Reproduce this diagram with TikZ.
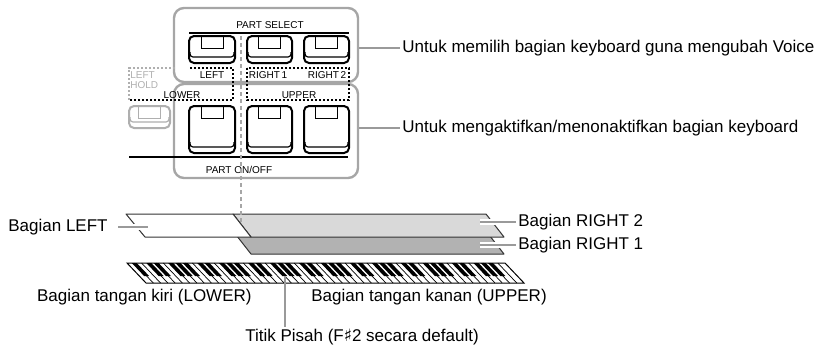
\documentclass[tikz,border=0pt]{standalone}
\usepackage{fontspec}
\setmainfont{Liberation Sans}
\newfontfamily\sharpfont{DejaVu Sans}
\usetikzlibrary{fit, positioning}
\definecolor{pGray}{HTML}{A6A6A6}
\definecolor{pLine}{HTML}{9A9A9A}
\definecolor{sLight}{HTML}{D9D9D9}
\definecolor{sDark}{HTML}{B2B2B2}
\definecolor{hGray}{HTML}{AFAFAF}
\tikzset{
  panel/.style={draw=pGray, line width=1.2pt, rounded corners=5pt, inner sep=0pt},
  btn/.style={line width=1pt, rounded corners=2.5pt},
  btnlip/.style={line width=0.6pt, rounded corners=1.5pt},
  btnnotch/.style={line width=0.5pt},
  tag/.style={font=\fontsize{5}{5.2}\selectfont, inner sep=0pt},
  note/.style={font=\fontsize{8.5}{10}\selectfont, inner sep=1pt},
  callout/.style={draw=pLine, line width=1pt},
  pin/.style={draw=pLine, line width=1pt, preaction={draw=white, line width=2.6pt}},
  sheet/.style={draw=black!80, line width=0.5pt, line join=round},
  zone/.style={line width=0.6pt, dash pattern=on 1.2pt off 0.8pt},
  splitline/.style={draw=pGray, line width=1pt, dash pattern=on 2pt off 1.5pt},
  keyline/.style={line width=0.35pt},
}

% one panel button: x0, y0, x1, y1, colour
\newcommand{\panelbutton}[5]{%
  \draw[btn, draw=#5, fill=white] (#1,#2) rectangle (#3,#4);
  \draw[btnlip, draw=#5] ({#1+1},{#4-11}) |- ({(#1+#3)/2},{#4-6}) -| ({#3-1},{#4-11});
  \draw[btnnotch, draw=#5] ({(#1+#3)/2-11},#2) rectangle ({(#1+#3)/2+11},{#2+12});
}

\begin{document}
\begin{tikzpicture}[x=0.5pt, y=-0.5pt]
  \useasboundingbox (0,0) rectangle (825,345);

  % panel frames
  \node[panel, fit={(174,8) (358,82)}] (selpanel) {};
  \node[panel, fit={(174,84) (358,178)}] (onpanel) {};

  % PART SELECT row
  \node[tag] (selhead) at (270,25) {PART~SELECT};
  \draw[line width=0.9pt] (189,33) -- (349,33);
  \panelbutton{189}{36}{235}{63}{black}
  \panelbutton{247}{36}{292}{63}{black}
  \panelbutton{304}{36}{349}{63}{black}
  \node[tag] (leftsel) at (212,75) {LEFT};
  \node[tag] (r1sel) at (268,75) {RIGHT\,1};
  \node[tag] (r2sel) at (327,75) {RIGHT\,2};

  % LOWER / UPPER zones
  \draw[zone, draw=hGray] (175,68) -- (129,68) -- (129,100);
  \draw[zone] (190,68) -- (233,68) -- (233,100) -- (129,100);
  \draw[zone] (247,68) rectangle (349,100);
  \node[tag, text=hGray, align=left, anchor=north west] (holdtag) at (130,71) {LEFT\\HOLD};
  \node[tag] (lowertag) at (182,95) {LOWER};
  \node[tag] (uppertag) at (299,95) {UPPER};

  % PART ON/OFF row
  \panelbutton{129}{106}{170}{128}{hGray}
  \panelbutton{189}{106}{235}{153}{black}
  \panelbutton{247}{106}{292}{153}{black}
  \panelbutton{304}{106}{349}{153}{black}
  \draw[line width=0.9pt] (129,157) -- (348,157);
  \node[tag] (onofftag) at (239,170) {PART ON/OFF};

  \node[note, anchor=west] (selnote) at (400,48) {Untuk memilih bagian keyboard guna mengubah Voice};
  \node[note, anchor=west] (onnote) at (400,128) {Untuk mengaktifkan/menonaktifkan bagian keyboard};
  \draw[callout] (selnote.west -| selpanel.east) -- (selnote.west);
  \draw[callout] (onnote.west -| onpanel.east) -- (onnote.west);

  % voice layers
  \draw[sheet, fill=sDark] (233,231) -- (486,231) -- (504,254) -- (251,254) -- cycle;
  \draw[sheet, fill=sLight] (233,214) -- (486,214) -- (504,237) -- (251,237) -- cycle;
  \draw[sheet, fill=white] (126,214) -- (233,214) -- (251,237) -- (145,237) -- cycle;
  \draw[splitline] (241,36) -- (241,223);

  % 88 keys, slanted
  \begin{scope}[shift={(127,263)}, xslant=-0.95]
    \fill[white] (0,0) rectangle (378,20);
    \foreach \k in {1,...,51}
      \draw[keyline] (\k*7.27,0) -- (\k*7.27,20);
    \foreach \o in {0,7,...,42}
      \foreach \k in {1,3,4,6,7}
        \fill ({(\o+\k)*7.27-2.5},0) rectangle ({(\o+\k)*7.27+2.5},13);
    \fill ({50*7.27-2.5},0) rectangle ({50*7.27+2.5},13);
    \draw[line width=0.5pt] (0,0) rectangle (378,20);
    \coordinate (splitkey) at (20*7.27,13);
  \end{scope}

  % layer labels
  \node[note, anchor=west] (leftlbl) at (6,227) {Bagian LEFT};
  \coordinate (leftpin) at (148,227);
  \draw[pin, shorten <=4pt] (leftlbl.east) -- (leftpin);
  \node[note, anchor=west] (r2lbl) at (516,222) {Bagian RIGHT 2};
  \coordinate (r2pin) at (480,222);
  \draw[pin] (r2pin) -- (r2lbl.west);
  \node[note, anchor=west] (r1lbl) at (516,245) {Bagian RIGHT 1};
  \coordinate (r1pin) at (480,245);
  \draw[pin] (r1pin) -- (r1lbl.west);

  % keyboard labels
  \node[note, anchor=east] (lowerlbl) at (254,297) {Bagian tangan kiri (LOWER)};
  \node[note, anchor=west] (upperlbl) at (309,297) {Bagian tangan kanan (UPPER)};
  \node[note] (splitlbl) at (362,337) {Titik Pisah (F{\sharpfont ♯}2 secara default)};
  \draw[callout] (splitkey) -- (splitkey |- splitlbl.north);
\end{tikzpicture}
\end{document}
